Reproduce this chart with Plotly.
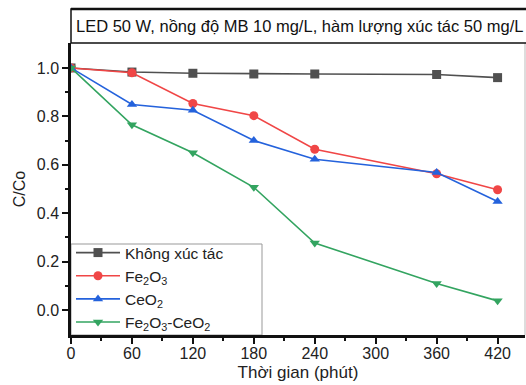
import plotly.graph_objects as go

time_min = [0, 60, 120, 180, 240, 360, 420]
no_catalyst = [1.0, 0.983, 0.978, 0.975, 0.975, 0.973, 0.960]
fe2o3 = [1.0, 0.98, 0.853, 0.803, 0.664, 0.563, 0.497]
ceo2 = [1.0, 0.849, 0.825, 0.700, 0.623, 0.568, 0.448]
fe2o3_ceo2 = [1.0, 0.765, 0.650, 0.507, 0.277, 0.110, 0.038]

series_names = ["Không xúc tác", "Fe<sub>2</sub>O<sub>3</sub>", "CeO<sub>2</sub>",
                "Fe<sub>2</sub>O<sub>3</sub>-CeO<sub>2</sub>"]
x_ticks = [0, 60, 120, 180, 240, 300, 360, 420]
y_ticks = [0.0, 0.2, 0.4, 0.6, 0.8, 1.0]
title_text = "LED 50 W, nồng độ MB 10 mg/L, hàm lượng xúc tác 50 mg/L"

colors = ["#505050", "#f04646", "#2462dc", "#33a460"]
symbols = ["square", "circle", "triangle-up", "triangle-down"]

fig = go.Figure()
for name, ys, c, s in zip(series_names, [no_catalyst, fe2o3, ceo2, fe2o3_ceo2], colors, symbols):
    fig.add_trace(go.Scatter(x=time_min, y=ys, name=name, mode="lines+markers",
                             line=dict(color=c, width=1.6),
                             marker=dict(symbol=s, size=9, color=c)))

font = "Liberation Sans, Arial, sans-serif"
plot_h = 292
fig.update_layout(
    width=526, height=385,
    margin=dict(l=71, r=1, t=43, b=50),
    paper_bgcolor="white", plot_bgcolor="white",
    font=dict(family=font, size=16, color="#222"),
    showlegend=True,
    legend=dict(x=0, y=(335 - 236) / plot_h, xanchor="left", yanchor="top",
                bgcolor="rgba(0,0,0,0)", borderwidth=0,
                font=dict(size=15.5, color="#222"), tracegroupgap=0, itemwidth=44),
    xaxis=dict(range=[0, 447], tickvals=x_ticks, ticks="outside", ticklen=6, tickwidth=1.5,
               tickcolor="#111", showline=True, linecolor="#111", linewidth=2.5,
               showgrid=False, zeroline=False, tickfont=dict(size=16), automargin=False,
               ticklabelstandoff=-4,
               minor=dict(tickvals=[30, 90, 150, 210, 270, 330, 390], ticks="outside", ticklen=3,
                          tickcolor="#111"),
               title=dict(text="Thời gian (phút)", font=dict(size=17), standoff=6)),
    yaxis=dict(range=[-0.103, 1.103], tickvals=y_ticks, tickformat=".1f", ticks="outside",
               ticklen=6, tickwidth=1.5, tickcolor="#111", showline=True, linecolor="#111",
               linewidth=2.5, showgrid=False, zeroline=False, tickfont=dict(size=16),
               automargin=False,
               minor=dict(tickvals=[0.1, 0.3, 0.5, 0.7, 0.9], ticks="outside", ticklen=3,
                          tickcolor="#111"),
               title=dict(text="C/Co", font=dict(size=16), standoff=8)),
)

# legend frame
fig.add_shape(type="rect", xref="paper", yref="paper", x0=0, x1=(262 - 71) / 454,
              y0=0, y1=(335 - 244) / plot_h, layer="below",
              line=dict(color="#999", width=1), fillcolor="white")
# right frame line (light)
fig.add_shape(type="line", xref="paper", yref="paper", x0=1, x1=1, y0=0, y1=1,
              line=dict(color="#bbb", width=1))
# title box above plot
fig.add_shape(type="rect", xref="paper", yref="paper", x0=0, x1=1.01, y0=1, y1=1 + 34 / plot_h,
              line=dict(color="#111", width=1.5), fillcolor="white")
fig.add_shape(type="line", xref="paper", yref="paper", x0=0, x1=1.01, y0=1 + 34 / plot_h,
              y1=1 + 34 / plot_h, line=dict(color="#111", width=2.5))
fig.add_annotation(text=title_text, xref="paper", yref="paper", x=0.006, y=1 + 17 / plot_h,
                   xanchor="left", yanchor="middle", showarrow=False,
                   font=dict(size=16.5, color="#111", family=font))

fig.write_html("out.html", config={"displayModeBar": False},
               post_script="document.body.style.margin='0';")
